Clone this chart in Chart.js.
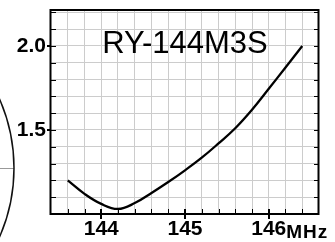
<!DOCTYPE html>
<html><head><meta charset="utf-8">
<script src="https://cdn.jsdelivr.net/npm/chart.js@4/dist/chart.umd.min.js"></script>
<style>html,body{margin:0;padding:0;background:#fff;}canvas{display:block}</style>
</head><body>
<canvas id="c" width="335" height="242"></canvas>
<script>
const freqMHz = [143.6,143.8,144.0,144.2,144.4,144.6,144.8,145.0,145.2,145.4,145.6,145.8,146.0,146.2,146.4];
const swr     = [1.20, 1.12, 1.06, 1.03, 1.065, 1.125, 1.19, 1.26, 1.335, 1.42, 1.51, 1.62, 1.745, 1.872, 2.00];
const xGridTicks = [143.6,143.8,144.0,144.2,144.4,144.6,144.8,145.0,145.2,145.4,145.6,145.8,146.0,146.2,146.4];
const xTickLabels = [144,145,146];
const yGridTicks = [1.1,1.2,1.3,1.4,1.5,1.6,1.7,1.8,1.9,2.0,2.1,2.2];
const yTickLabels = [1.5,2.0];
const titleText = 'RY-144M3S';
const unitText = 'MHz';

const xFont = {family:'"Liberation Sans", Arial, sans-serif', size:21, weight:'bold'};
const yFont = {family:'"Liberation Sans", Arial, sans-serif', size:21, weight:'bold'};

function near(a,b){return Math.abs(a-b)<1e-6;}

const decor = {
  id:'decor',
  afterDraw(chart){
    const {ctx, chartArea:a, scales:{x,y}} = chart;
    ctx.save();
    ctx.strokeStyle='#000';
    ctx.lineWidth=1;
    ctx.beginPath();
    yGridTicks.forEach(v=>{
      const p=Math.round(y.getPixelForValue(v))+0.5;
      ctx.moveTo(a.left,p); ctx.lineTo(a.left+5,p);
      ctx.moveTo(a.right-5,p); ctx.lineTo(a.right,p);
    });
    xGridTicks.forEach(v=>{
      const p=Math.round(x.getPixelForValue(v))+0.5;
      ctx.moveTo(p,a.bottom-5); ctx.lineTo(p,a.bottom);
    });
    ctx.stroke();
    ctx.lineWidth=2;
    ctx.beginPath();
    yTickLabels.forEach(v=>{
      const p=Math.round(y.getPixelForValue(v));
      ctx.moveTo(a.left-4,p); ctx.lineTo(a.left,p);
    });
    xTickLabels.forEach(v=>{
      const p=Math.round(x.getPixelForValue(v));
      ctx.moveTo(p,a.bottom-5); ctx.lineTo(p,a.bottom+5);
    });
    ctx.stroke();
    // frame
    ctx.lineWidth=2;
    ctx.strokeRect(a.left-0.5,a.top,a.right-a.left,a.bottom-a.top);
    // title
    ctx.fillStyle='#000';
    ctx.font='31px "Liberation Sans", Arial, sans-serif';
    ctx.textAlign='center';
    ctx.textBaseline='alphabetic';
    ctx.fillText(titleText,(a.left+a.right)/2,a.top+43);
    // unit after last label
    ctx.font = xFont.weight+' '+xFont.size+'px '+xFont.family;
    const last = xTickLabels[xTickLabels.length-1];
    const w = ctx.measureText(String(last)).width;
    const px = x.getPixelForValue(last)+w/2;
    ctx.font='bold 19px "Liberation Sans", Arial, sans-serif';
    ctx.letterSpacing='1px';
    ctx.textAlign='left';
    ctx.fillText(unitText,px,238);
    ctx.letterSpacing='0px';
    // partial Smith-chart circle at left edge
    ctx.strokeStyle='#999';
    ctx.lineWidth=1;
    ctx.beginPath(); ctx.moveTo(0,168.5); ctx.lineTo(14,168.5); ctx.stroke();
    ctx.strokeStyle='#111';
    ctx.lineWidth=1.5;
    ctx.beginPath(); ctx.arc(-158,168,172,-0.45,0.45); ctx.stroke();
    ctx.restore();
  }
};

new Chart(document.getElementById('c'),{
  type:'line',
  data:{datasets:[{
    data: freqMHz.map((f,i)=>({x:f,y:swr[i]})),
    borderColor:'#000', borderWidth:2.3, pointRadius:0,
    tension:0.4, fill:false
  }]},
  options:{
    responsive:false, animation:false, devicePixelRatio:1,
    layout:{padding:{top:10,right:16,left:0,bottom:0}},
    plugins:{legend:{display:false},tooltip:{enabled:false},title:{display:false}},
    scales:{
      x:{type:'linear',min:143.4,max:146.6,
        afterBuildTicks:s=>{s.ticks=xGridTicks.map(v=>({value:v}));},
        afterFit:s=>{s.height=28;s.paddingLeft=0;s.paddingRight=0;},
        grid:{color:'#cccccc',lineWidth:1,drawTicks:false},
        border:{display:false},
        ticks:{autoSkip:false,maxRotation:0,padding:3,color:'#000',font:xFont,
          callback:v=>xTickLabels.some(t=>near(t,v))?String(Math.round(v)):''}
      },
      y:{type:'linear',min:1.0,max:2.214,
        afterBuildTicks:s=>{s.ticks=yGridTicks.map(v=>({value:v}));},
        afterFit:s=>{s.width=51;s.paddingTop=0;s.paddingBottom=0;},
        grid:{color:'#cccccc',lineWidth:1,drawTicks:false},
        border:{display:false},
        ticks:{autoSkip:false,padding:5,color:'#000',font:yFont,
          callback:v=>yTickLabels.some(t=>near(t,v))?v.toFixed(1):''}
      }
    }
  },
  plugins:[decor]
});
</script>
</body></html>
